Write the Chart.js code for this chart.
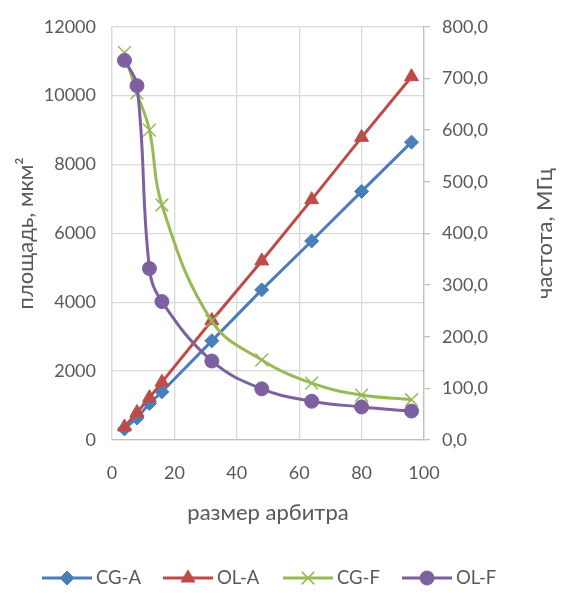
<!DOCTYPE html>
<html><head><meta charset="utf-8">
<script src="https://cdn.jsdelivr.net/npm/chart.js@4/dist/chart.umd.min.js"></script>
<style>html,body{margin:0;padding:0;background:#fff}#w{width:564px;height:593px}</style>
</head><body><div id="w"><canvas id="c" width="564" height="593"></canvas></div>
<script>
const arbiterSizes = [4, 8, 12, 16, 32, 48, 64, 80, 96];
const cgArea = [320, 640, 1060, 1400, 2880, 4360, 5780, 7220, 8650];
const olArea = [380, 800, 1230, 1680, 3470, 5200, 6980, 8790, 10550];
const cgFreq = [750, 672, 600, 455, 230, 155, 110, 87, 78];
const olFreq = [735, 686, 332, 268, 153, 99, 75, 64, 56];
const seriesNames = ['CG-A', 'OL-A', 'CG-F', 'OL-F'];
const xTitle = 'размер арбитра';
const leftTitle = 'площадь, мкм²';
const rightTitle = 'частота, МГц';

const FONT = 'Lato';
const TXT = '#595959';
const pts = arr => arr.map((v, i) => ({x: arbiterSizes[i], y: v}));

const styles = [
  {color:'#4A7EBB', style:'rectRot', r:7},
  {color:'#BE4B48', style:'triangle', r:8},
  {color:'#98B954', style:'crossRot', r:9},
  {color:'#7D60A0', style:'circle', r:7}
];
const values = [cgArea, olArea, cgFreq, olFreq];
const axes = ['y', 'y', 'y1', 'y1'];

const datasets = values.map((v, i) => ({
  label: seriesNames[i],
  data: pts(v),
  yAxisID: axes[i],
  borderColor: styles[i].color,
  backgroundColor: styles[i].color,
  borderWidth: 3,
  pointStyle: styles[i].style,
  pointRadius: styles[i].r,
  pointBorderWidth: styles[i].style === 'crossRot' ? 1.5 : 1,
  pointBorderColor: styles[i].color,
  pointBackgroundColor: styles[i].color,
  tension: i >= 2 ? 0.4 : 0,
  order: 4 - i,
  clip: false
}));

const legendPlugin = {
  id: 'xlLegend',
  afterDraw(chart) {
    const ctx = chart.ctx;
    const y = 578;
    const starts = [42, 163, 283, 402];
    ctx.save();
    ctx.font = '18.5px ' + FONT;
    ctx.textBaseline = 'middle';
    chart.data.datasets.forEach((ds, i) => {
      const x0 = starts[i];
      ctx.strokeStyle = ds.borderColor;
      ctx.lineWidth = 3;
      ctx.beginPath(); ctx.moveTo(x0, y); ctx.lineTo(x0 + 50, y); ctx.stroke();
      ctx.fillStyle = ds.backgroundColor;
      ctx.strokeStyle = ds.borderColor;
      ctx.lineWidth = ds.pointBorderWidth;
      Chart.helpers.drawPoint(ctx, {pointStyle: ds.pointStyle, radius: ds.pointRadius, rotation: 0, borderWidth: ds.pointBorderWidth}, x0 + 25, y);
      ctx.fillStyle = TXT;
      ctx.fillText(ds.label, x0 + 54, y);
    });
    // right axis title, reading bottom-to-top
    const ca = chart.chartArea;
    ctx.translate(545, (ca.top + ca.bottom) / 2);
    ctx.rotate(-Math.PI / 2);
    ctx.textAlign = 'center';
    ctx.font = '22px ' + FONT;
    ctx.fillText(rightTitle, 0, 0);
    ctx.restore();
  }
};

new Chart(document.getElementById('c'), {
  type: 'line',
  data: {datasets},
  plugins: [legendPlugin],
  options: {
    responsive: false,
    animation: false,
    devicePixelRatio: 1,
    layout: {padding: {top: 22, left: 0, right: 0, bottom: 0}},
    plugins: {legend: {display: false}, tooltip: {enabled: false}},
    scales: {
      x: {
        type: 'linear', min: 0, max: 100,
        ticks: {stepSize: 20, color: TXT, font: {family: FONT, size: 18}, padding: 22},
        grid: {color: '#D9D9D9', lineWidth: 1.3, drawTicks: false},
        border: {color: '#BFBFBF', width: 1.3},
        title: {display: true, text: xTitle, color: TXT, font: {family: FONT, size: 22}, padding: {top: 0, bottom: 67}},
        afterFit(s) { s.height = 153; }
      },
      y: {
        position: 'left', min: 0, max: 12000,
        ticks: {stepSize: 2000, color: TXT, font: {family: FONT, size: 18}, padding: 16,
          callback: v => String(v)},
        grid: {color: '#D9D9D9', lineWidth: 1.3, drawTicks: false},
        border: {color: '#D9D9D9', width: 1.3},
        title: {display: true, text: leftTitle, color: TXT, font: {family: FONT, size: 22}, padding: {top: 13, bottom: 0}},
        afterFit(s) { s.width = 112; }
      },
      y1: {
        position: 'right', min: 0, max: 800,
        ticks: {stepSize: 100, color: TXT, font: {family: FONT, size: 18}, padding: 12,
          callback: v => v.toFixed(1).replace('.', ',')},
        grid: {drawOnChartArea: false, drawTicks: true, tickLength: 6, color: '#BFBFBF', lineWidth: 1.3},
        border: {color: '#BFBFBF', width: 1.3},
        title: {display: false},
        afterFit(s) { s.width = 140; }
      }
    }
  }
});
</script>
</body></html>
